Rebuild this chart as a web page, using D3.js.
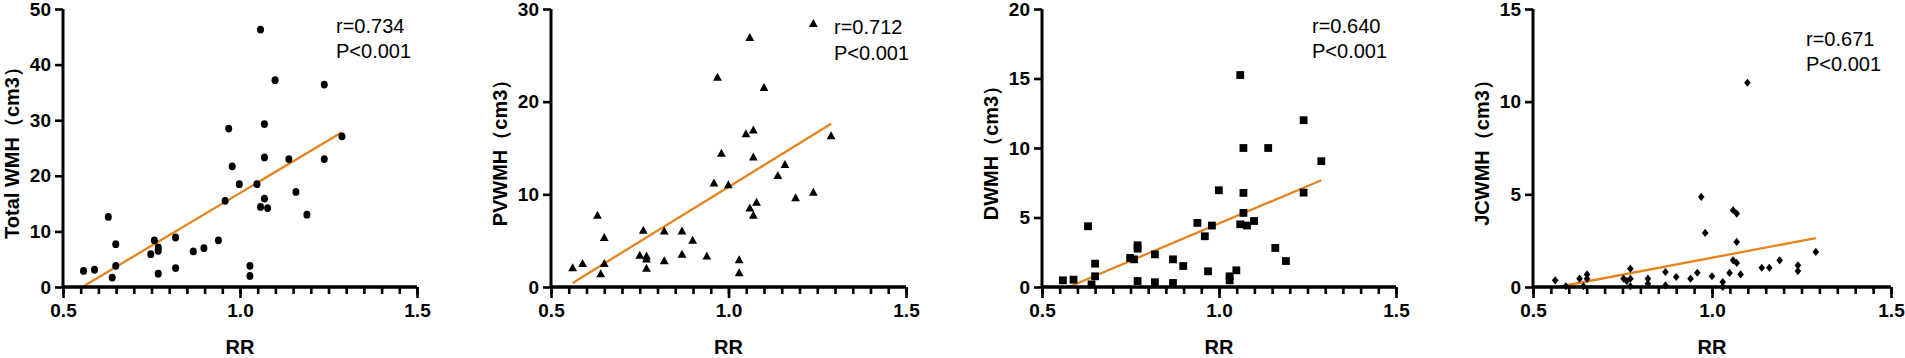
<!DOCTYPE html>
<html><head><meta charset="utf-8">
<script src="https://cdn.jsdelivr.net/npm/d3@7"></script>
<style>body{margin:0;background:#fff}svg{display:block}</style>
</head><body><svg id="c" width="1905" height="358"></svg>
<script>
// ---------- data ----------
const xTicks = [0.5, 1.0, 1.5];
const xTickLabels = ["0.5", "1.0", "1.5"];
const xMinorStep = 0.05;
const xLabel = "RR";
const yLabels = ["Total WMH（cm3）", "PVWMH（cm3）", "DWMH（cm3）", "JCWMH（cm3）"];
const yTicksTotal = [0, 10, 20, 30, 40, 50];
const yTicksPV = [0, 10, 20, 30];
const yTicksD = [0, 5, 10, 15, 20];
const yTicksJC = [0, 5, 10, 15];
const rTexts = ["r=0.734", "r=0.712", "r=0.640", "r=0.671"];
const pTexts = ["P<0.001", "P<0.001", "P<0.001", "P<0.001"];
const fitSlope = [37.9, 23.6, 10.76, 3.66];
const fitIntercept = [-21.0, -12.8, -6.19, -2.08];

const rrTotal = [0.558,0.589,0.628,0.639,0.649,0.649,0.748,0.758,0.769,0.769,0.769,0.818,0.818,0.868,0.898,0.939,0.958,0.968,0.978,0.998,1.028,1.028,1.048,1.058,1.058,1.069,1.069,1.069,1.078,1.099,1.138,1.158,1.189,1.238,1.238,1.288];
const wmhTotal = [2.9,3.1,12.6,1.7,7.7,3.8,5.9,8.4,7.1,6.5,2.4,8.9,3.4,6.4,7.0,8.4,15.5,28.5,21.7,18.5,3.8,2.0,18.5,46.3,14.4,29.3,23.3,15.9,14.2,37.2,23.0,17.1,13.0,36.4,23.0,27.1];

const rrPV = [0.561,0.589,0.631,0.640,0.650,0.650,0.750,0.760,0.769,0.769,0.769,0.819,0.819,0.869,0.869,0.899,0.939,0.959,0.969,0.980,0.9995,1.030,1.030,1.049,1.060,1.060,1.070,1.070,1.070,1.079,1.100,1.139,1.159,1.189,1.239,1.239,1.289];
const wmhPV = [2.05,2.5,7.7,1.4,5.3,2.5,3.4,6.1,3.3,3.0,2.0,6.0,2.8,6.0,3.5,5.0,3.3,11.2,22.6,14.4,11.0,2.9,1.5,16.5,26.9,8.5,16.9,14.0,7.7,9.1,21.5,12.0,13.2,9.6,28.4,10.2,16.3];

const rrD = [0.559,0.589,0.630,0.640,0.650,0.650,0.749,0.760,0.770,0.770,0.770,0.819,0.819,0.870,0.870,0.899,0.939,0.960,0.969,0.980,0.9995,1.030,1.030,1.049,1.060,1.060,1.069,1.069,1.069,1.079,1.099,1.139,1.159,1.189,1.239,1.239,1.289];
const wmhD = [0.48,0.53,4.37,0.19,1.68,0.77,2.09,1.99,3.0,2.76,0.43,2.35,0.34,1.99,0.29,1.51,4.61,3.65,1.13,4.42,6.96,0.77,0.48,1.2,15.25,4.51,10.0,6.77,5.33,4.42,4.75,10.0,2.81,1.87,12.0,6.79,9.05];

const rrJC = [0.562,0.592,0.630,0.641,0.651,0.651,0.753,0.762,0.772,0.772,0.772,0.821,0.821,0.870,0.870,0.900,0.940,0.959,0.970,0.981,1.0,1.030,1.030,1.049,1.059,1.059,1.069,1.069,1.069,1.080,1.099,1.139,1.160,1.189,1.240,1.240,1.290];
const wmhJC = [0.36,0.04,0.45,0.04,0.68,0.45,0.45,0.32,0.99,0.45,0.04,0.45,0.18,0.81,0.09,0.54,0.45,0.77,4.86,2.92,0.58,0.27,0.0,0.76,1.44,4.14,3.96,2.43,1.30,0.68,11.02,1.04,1.04,1.44,1.17,0.86,1.89];

// ---------- layout ----------
const layout = [
  {x0: 63,   x1: 417,  rx: 273, rY: 33, pY: 58},
  {x0: 551,  x1: 906,  rx: 283, rY: 34, pY: 60},
  {x0: 1042, x1: 1396, rx: 270, rY: 33, pY: 58},
  {x0: 1533, x1: 1891, rx: 273, rY: 46, pY: 71}
];
const yTop = 9, yBot = 287;
const orange = "#E5831E";

const panels = [
  {x: rrTotal, y: wmhTotal, ticks: yTicksTotal, shape: "circle"},
  {x: rrPV, y: wmhPV, ticks: yTicksPV, shape: "triangle"},
  {x: rrD, y: wmhD, ticks: yTicksD, shape: "square"},
  {x: rrJC, y: wmhJC, ticks: yTicksJC, shape: "diamond"}
];

const triangle = {draw(ctx, s){ const w=4.4, h=8; ctx.moveTo(0,-h*0.6); ctx.lineTo(w,h*0.4); ctx.lineTo(-w,h*0.4); ctx.closePath(); }};
const square = {draw(ctx, s){ ctx.rect(-3.9,-3.9,7.8,7.8); }};
const diamond = {draw(ctx, s){ ctx.moveTo(0,-4.1); ctx.lineTo(3.3,0); ctx.lineTo(0,4.1); ctx.lineTo(-3.3,0); ctx.closePath(); }};

const svg = d3.select("#c");
const font = "'Liberation Sans', Arial, sans-serif";

panels.forEach((p, i) => {
  const L = layout[i];
  const yMaxV = p.ticks[p.ticks.length - 1];
  const xs = d3.scaleLinear().domain([0.5, 1.5]).range([L.x0, L.x1]);
  const ys = d3.scaleLinear().domain([0, yMaxV]).range([yBot, yTop]);
  const g = svg.append("g");

  // regression line
  const xmin = d3.min(p.x), xmax = d3.max(p.x);
  let xa = xmin;
  if (fitSlope[i] * xa + fitIntercept[i] < 0) xa = -fitIntercept[i] / fitSlope[i];
  g.append("line")
    .attr("x1", xs(xa)).attr("y1", ys(fitSlope[i]*xa + fitIntercept[i]))
    .attr("x2", xs(xmax)).attr("y2", ys(fitSlope[i]*xmax + fitIntercept[i]))
    .attr("stroke", orange).attr("stroke-width", 2.3);

  // points
  const pts = g.append("g");
  p.x.forEach((xv, j) => {
    const cx = xs(xv), cy = ys(p.y[j]);
    if (p.shape === "circle") {
      pts.append("ellipse").attr("cx", cx).attr("cy", cy).attr("rx", 3.5).attr("ry", 3.9).attr("fill", "#000");
    } else {
      const t = p.shape === "triangle" ? triangle : p.shape === "square" ? square : diamond;
      pts.append("path").attr("d", d3.symbol().type(t)()).attr("transform", `translate(${cx},${cy})`).attr("fill", "#000");
    }
  });

  // axes
  const minor = d3.range(0.5, 1.5001, xMinorStep);
  const xAxisMinor = d3.axisBottom(xs).tickValues(minor).tickSize(7).tickFormat("");
  const xAxis = d3.axisBottom(xs).tickValues(xTicks).tickSize(11).tickPadding(6).tickFormat((d, k) => xTickLabels[k]);
  const yAxis = d3.axisLeft(ys).tickValues(p.ticks).tickSize(8).tickPadding(4).tickFormat(d3.format("d"));

  const gxm = g.append("g").attr("transform", `translate(0,${yBot})`).call(xAxisMinor);
  const gx = g.append("g").attr("transform", `translate(0,${yBot})`).call(xAxis);
  const gy = g.append("g").attr("transform", `translate(${L.x0},0)`).call(yAxis);
  [gxm, gx, gy].forEach(a => {
    a.select(".domain").attr("stroke", "#000").attr("stroke-width", 3);
    a.selectAll(".tick line").attr("stroke", "#000").attr("stroke-width", 2.6);
    a.selectAll(".tick text").attr("fill", "#000").style("font-family", font).style("font-size", "19px").style("font-weight", "bold");
  });
  gxm.select(".domain").attr("d", `M${L.x0},0H${L.x1}`);
  gx.select(".domain").attr("d", `M${L.x0},0H${L.x1}`);
  gy.select(".domain").attr("d", `M0,${yBot}V${yTop}`);

  // labels
  g.append("text").attr("x", (L.x0 + L.x1) / 2).attr("y", 354)
    .attr("text-anchor", "middle").style("font-family", font).style("font-size", "20px").style("font-weight", "bold").text(xLabel);
  g.append("text").attr("transform", `translate(${L.x0 - 44},${(yTop + yBot) / 2}) rotate(-90)`)
    .attr("text-anchor", "middle").style("font-family", font).style("font-size", "20px").style("font-weight", "bold").text(yLabels[i]);

  g.append("text").attr("x", L.x0 + L.rx).attr("y", L.rY).style("font-family", font).style("font-size", "20px").text(rTexts[i]);
  g.append("text").attr("x", L.x0 + L.rx).attr("y", L.pY).style("font-family", font).style("font-size", "20px").text(pTexts[i]);
});
</script></body></html>
